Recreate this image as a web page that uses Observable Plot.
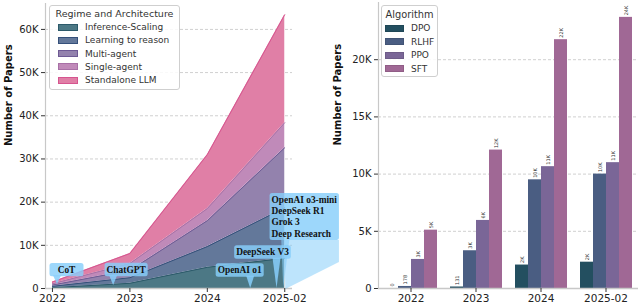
<!DOCTYPE html>
<html><head><meta charset="utf-8">
<script src="https://cdn.jsdelivr.net/npm/d3@7"></script>
<script src="https://cdn.jsdelivr.net/npm/@observablehq/plot@0.6"></script>
<style>
body{margin:0;background:#fff;font-family:"DejaVu Sans",sans-serif;color:#333}
#wrap{position:relative;width:640px;height:305px;overflow:hidden;background:#fff}
#left,#right{position:absolute;top:0}
#left{left:0;z-index:2}
#right{left:320px;z-index:1}
svg{overflow:visible}
.legend{position:absolute;box-sizing:border-box;border:1px solid #cfcfcf;border-radius:3px;background:rgba(255,255,255,0.85);z-index:3}
.legend .t{position:absolute;left:0;right:0;text-align:center;line-height:12px;white-space:nowrap}
.legend .sw{position:absolute;box-sizing:border-box;border:1px solid}
.legend .lb{position:absolute;line-height:12px;white-space:nowrap}
</style></head>
<body><div id="wrap"><div id="left"></div><div id="right"></div></div>
<svg id="measure" width="0" height="0" style="position:absolute;left:-999px;top:-999px"></svg>
<script>
// ---------- data ----------
const years = ["2022", "2023", "2024", "2025-02"];
const regimes = ["Inference-Scaling", "Learning to reason", "Multi-agent", "Single-agent", "Standalone LLM"];
const inferenceScaling = [200, 1200, 4900, 7000];
const learningToReason = [300, 1300, 4800, 11700];
const multiAgent = [300, 1700, 6000, 13900];
const singleAgent = [300, 1600, 2800, 5800];
const standaloneLLM = [400, 2300, 12500, 25000];

const algorithms = ["DPO", "RLHF", "PPO", "SFT"];
const dpo = [0, 131, 2050, 2300];
const rlhf = [178, 3300, 9500, 10000];
const ppo = [2540, 5950, 10650, 11000];
const sft = [5100, 12100, 21750, 23700];

const leftTicks = [0, 10000, 20000, 30000, 40000, 50000, 60000];
const rightTicks = [0, 5000, 10000, 15000, 20000];

// annotation events: label, x position (year index), y value
const eventLabels = ["CoT", "ChatGPT", "OpenAI o1", "DeepSeek V3", "OpenAI o3-mini\nDeepSeek R1\nGrok 3\nDeep Research"];
const eventX = [0.065, 0.79, 2.56, 2.9, 3.0];
const eventY = [900, 700, 0, 0, 0];

// ---------- styles ----------
const areaFills = ["#4c7885", "#63789a", "#9382ad", "#c08ab9", "#e07fa6"];
const areaLines = ["#2c5a6a", "#35507a", "#6e5a94", "#a870a6", "#d6558f"];
const barFills = ["#234f60", "#4a5d82", "#7a6697", "#a06895"];
const calloutLayout = [
  {dx: 9.5, dy: -14.5}, {dx: 13, dy: -15.5}, {dx: -10.5, dy: -18}, {dx: -14, dy: -36}, {dx: 20, dy: -71.5, wedge: true}
];

const fmtK = d => d === 0 ? "0" : (d / 1000) + "K";
const fmtBar = v => v < 1000 ? String(v) : Math.round(v / 1000) + "K";

// ---------- left chart ----------
const regimeValues = [inferenceScaling, learningToReason, multiAgent, singleAgent, standaloneLLM];
const areaData = regimes.flatMap((r, k) => regimeValues[k].map((v, i) => ({i, regime: r, value: v})));
const events = eventLabels.map((label, k) => ({label, x: eventX[k], y: eventY[k], ...calloutLayout[k]}));
const xDomain = [-0.09, 3.1];

const CFONT = 9.4;
const measureSvg = document.getElementById("measure");
function textWidth(s) {
  const t = document.createElementNS("http://www.w3.org/2000/svg", "text");
  t.setAttribute("font-family", "Liberation Serif");
  t.setAttribute("font-weight", "bold");
  t.setAttribute("font-size", CFONT);
  t.textContent = s;
  measureSvg.append(t);
  const w = t.getComputedTextLength();
  t.remove();
  return w;
}

function callouts(index, scales) {
  const g = d3.create("svg:g");
  const gPointers = g.append("g"), gBoxes = g.append("g"), gText = g.append("g");
  const lh = 11.3;
  for (const e of events) {
    const tx = scales.x(e.x), ty = scales.y(e.y);
    const lines = e.label.split("\n");
    const tw = d3.max(lines, textWidth);
    const w = Math.max(tw + 4, 34), h = lines.length * lh + 2;
    const cx = tx + e.dx, cy = ty + e.dy;
    const left = cx - w / 2, top = cy - h / 2, bottom = cy + h / 2;
    if (e.wedge) {
      gPointers.append("path")
        .attr("d", `M${tx},${bottom}L${left + w},${bottom}L${left + w},${bottom + 22}L${tx + 1},${ty + 1}Z`)
        .attr("fill", "#87cefa").attr("fill-opacity", 0.55);
      gPointers.append("path")
        .attr("d", `M${tx - 3},${bottom}L${tx + 5},${bottom}L${tx - 1},${ty}Z`)
        .attr("fill", "#87cefa").attr("fill-opacity", 0.6);
    } else {
      const bx = Math.min(Math.max(tx, left + 4), left + w - 4);
      gPointers.append("path")
        .attr("d", `M${bx - 4},${bottom - 1}L${bx + 4},${bottom - 1}L${tx},${ty}Z`)
        .attr("fill", "#87cefa").attr("fill-opacity", 0.85);
    }
    gBoxes.append("rect").attr("x", left).attr("y", top).attr("width", w).attr("height", h)
      .attr("rx", 2.5).attr("fill", "#87cefa").attr("fill-opacity", 0.82);
    const t = gText.append("text").attr("font-family", "Liberation Serif").attr("font-weight", "bold")
      .attr("font-size", CFONT).attr("fill", "#111");
    lines.forEach((l, j) => {
      t.append("tspan")
        .attr("x", lines.length > 1 ? left + 2 : cx)
        .attr("text-anchor", lines.length > 1 ? "start" : "middle")
        .attr("y", top + 1 + lh * j + lh / 2 + 3.3).text(l);
    });
  }
  return g.node();
}

const leftPlot = Plot.plot({
  width: 320, height: 305,
  marginLeft: 45, marginRight: 28, marginTop: 3, marginBottom: 17,
  style: {fontFamily: "DejaVu Sans", fontSize: "10px", color: "#333", background: "transparent", overflow: "visible"},
  x: {domain: xDomain, label: null},
  y: {domain: [0, 66000], label: null},
  color: {domain: regimes, range: areaFills},
  marks: [
    Plot.gridY(leftTicks.slice(1), {stroke: "#d0d0d0", strokeOpacity: 1, strokeDasharray: "3,2"}),
    Plot.areaY(areaData, {x: "i", y: "value", fill: "regime", order: regimes}),
    Plot.lineY(areaData, Plot.stackY2({x: "i", y: "value", z: "regime", order: regimes,
      stroke: d => areaLines[regimes.indexOf(d.regime)], strokeWidth: 1})),
    Plot.ruleX([xDomain[0]], {stroke: "#c8c8c8", strokeWidth: 1.2}),
    Plot.ruleY([0], {stroke: "#c8c8c8", strokeWidth: 1.5}),
    Plot.axisX([0, 1, 2, 3], {tickFormat: i => years[i], tickSize: 4, tickPadding: 2, stroke: "#333", fill: "#222", fontSize: 10.5}),
    Plot.axisY(leftTicks, {tickFormat: fmtK, tickSize: 4, tickPadding: 3, stroke: "#333", fill: "#222", fontSize: 10}),
    Plot.text(["Number of Papers"], {frameAnchor: "left", dx: -37, rotate: -90, fontWeight: "bold", fontSize: 10, fill: "#111"}),
    callouts
  ]
});
document.getElementById("left").append(leftPlot);

// ---------- right chart ----------
const algValues = [dpo, rlhf, ppo, sft];
const barData = algorithms.flatMap((a, k) => algValues[k].map((v, i) => ({year: years[i], alg: a, value: v})));

const rightPlot = Plot.plot({
  width: 320, height: 305,
  marginLeft: 58, marginRight: 2, marginTop: 2, marginBottom: 17,
  style: {fontFamily: "DejaVu Sans", fontSize: "10px", color: "#333", background: "transparent", overflow: "visible"},
  fx: {domain: years, padding: 0, label: null},
  x: {domain: algorithms, paddingInner: 0.03, paddingOuter: 0.5, axis: null},
  y: {domain: [0, 25000], label: null},
  color: {domain: algorithms, range: barFills},
  marks: [
    Plot.gridY(rightTicks.slice(1), {stroke: "#d0d0d0", strokeOpacity: 1, strokeDasharray: "3,2"}),
    Plot.barY(barData, {fx: "year", x: "alg", y: "value", fill: "alg"}),
    Plot.text(barData, {fx: "year", x: "alg", y: "value", text: d => fmtBar(d.value), rotate: -90,
      textAnchor: "start", dy: -2, fontSize: 5, fill: "#333"}),
    Plot.ruleY([0], {stroke: "#c8c8c8", strokeWidth: 1.5}),
    Plot.axisFx({anchor: "bottom", tickSize: 4, tickPadding: 2, stroke: "#333", fill: "#222", fontSize: 10.5, label: null}),
    Plot.axisY(rightTicks, {tickFormat: fmtK, tickSize: 4, tickPadding: 3, stroke: "#333", fill: "#222", fontSize: 10, label: null}),
    Plot.frame({anchor: "left", facetAnchor: "left", stroke: "#c8c8c8", strokeWidth: 1.2}),
    Plot.text(["Number of Papers"], {facet: "super", frameAnchor: "left", dx: -41, rotate: -90, fontWeight: "bold", fontSize: 10, fill: "#111"})
  ]
});
document.getElementById("right").append(rightPlot);

// ---------- legends ----------
function legend(cfg) {
  const div = document.createElement("div");
  div.className = "legend";
  Object.assign(div.style, {left: cfg.left + "px", top: cfg.top + "px", width: cfg.width + "px", height: cfg.height + "px"});
  const t = document.createElement("div");
  t.className = "t"; t.textContent = cfg.title;
  t.style.top = cfg.titleTop + "px"; t.style.fontSize = cfg.titleSize + "px";
  div.append(t);
  cfg.items.forEach((name, k) => {
    const cy = cfg.row0 + k * cfg.rowStep;
    const sw = document.createElement("div");
    sw.className = "sw";
    Object.assign(sw.style, {left: cfg.swLeft + "px", top: (cy - cfg.swH / 2 - 1) + "px", width: cfg.swW + "px",
      height: cfg.swH + "px", background: cfg.fills[k], borderColor: cfg.edges[k]});
    const lb = document.createElement("div");
    lb.className = "lb"; lb.textContent = name;
    Object.assign(lb.style, {left: cfg.lbLeft + "px", top: (cy - 7) + "px", fontSize: cfg.lbSize + "px"});
    div.append(sw, lb);
  });
  document.getElementById("wrap").append(div);
}
legend({left: 49, top: 5, width: 131, height: 85, title: "Regime and Architecture", titleTop: 2, titleSize: 9.5,
  items: regimes, fills: areaFills, edges: areaLines, row0: 22, rowStep: 13.3, swLeft: 8, swW: 20, swH: 7, lbLeft: 35, lbSize: 9});
legend({left: 381, top: 5, width: 57, height: 72, title: "Algorithm", titleTop: 3, titleSize: 9.8,
  items: algorithms, fills: barFills, edges: barFills.map(c => d3.color(c).darker(0.3).formatHex()), row0: 23, rowStep: 13.6,
  swLeft: 3, swW: 19, swH: 7, lbLeft: 29, lbSize: 9});
</script>
</body></html>
